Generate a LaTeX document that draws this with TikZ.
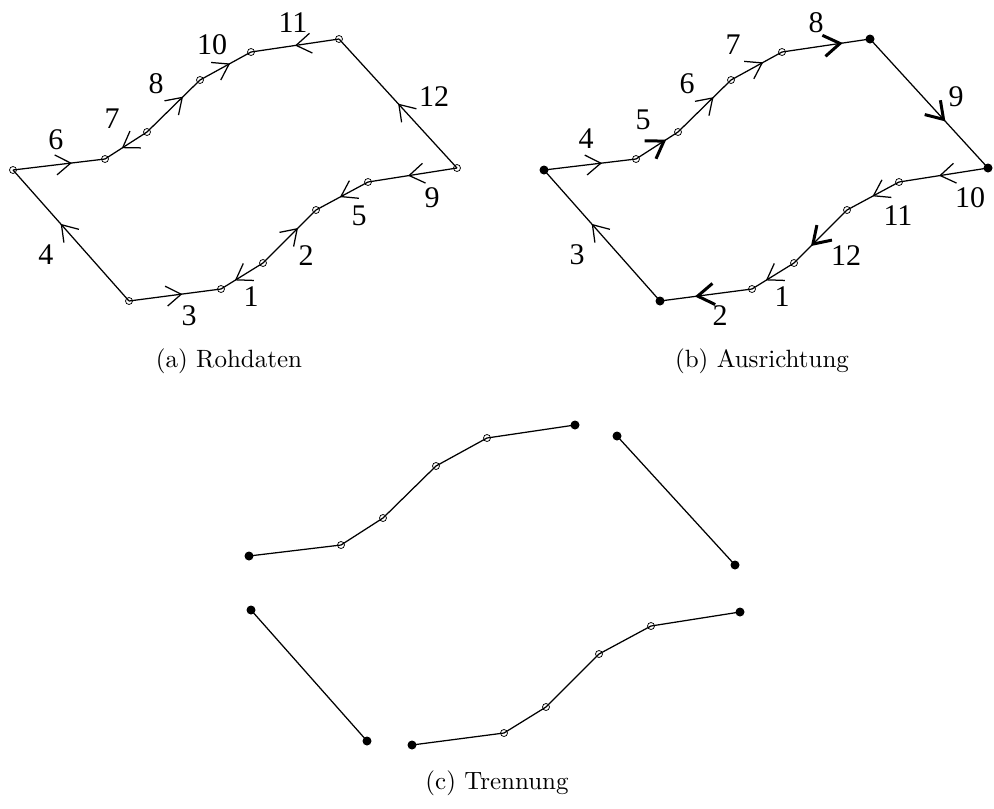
\documentclass[tikz,border=0pt]{standalone}
\usepackage{fontspec}
\newfontfamily\labelfont{Liberation Serif}
\usetikzlibrary{arrows.meta,decorations.markings}

\begin{document}
\begin{tikzpicture}[x=0.4pt,y=-0.4pt,line width=0.5pt,
  knot/.style={circle,draw,line width=0.3pt,inner sep=0pt,minimum size=2.8pt},
  endknot/.style={circle,fill,inner sep=0pt,minimum size=3.6pt},
  seglabel/.style={inner sep=0pt,font=\labelfont\fontsize{12}{12}\selectfont},
  arr/.style={decoration={markings,mark=at position #1 with {\arrow{Straight Barb[length=6pt,width=8pt]}}},postaction={decorate}},
  boldarr/.style={decoration={markings,mark=at position #1 with {\arrow[line width=1.2pt]{Straight Barb[length=6.5pt,width=8.5pt]}}},postaction={decorate}}]
  \useasboundingbox (0,0) rectangle (994,808);

  % (a) raw data
  \foreach \n/\x/\y in {1/13/170,2/105/159,3/147/132,4/200/80,5/251/52,6/339/39,7/457/168,8/368/182,9/316/210,10/263/263,11/221/289,12/129/301}
    \node[knot] (a\n) at (\x,\y) {};
  \foreach \s/\t/\p in {10/11/0.67,10/9/0.66,12/11/0.58,12/1/0.59,8/9/0.54,1/2/0.64,3/2/0.6,3/4/0.68,7/8/0.55,4/5/0.59,6/5/0.5,7/6/0.5}
    \draw[arr=\p] (a\s.center) -- (a\t.center);
  \foreach \t/\x/\y in {1/251/297,2/306/256,3/189/316,4/46/255,5/359/216,6/56/140,7/112/119,8/156/84,9/432/198,10/212/45,11/293/23,12/434/97}
    \node[seglabel] (la\t) at (\x,\y) {\t};
  \node[anchor=base] (capa) at (229,367) {(a) Rohdaten};

  % (b) oriented
  \foreach \n in {2,3,4,5,8,9,10,11}
    \node[knot] (b\n) at ([shift={(531,0)}]a\n) {};
  \foreach \n in {1,6,7,12}
    \node[endknot] (b\n) at ([shift={(531,0)}]a\n) {};
  \foreach \s/\t/\p in {1/2/0.63,3/4/0.67,4/5/0.63,7/8/0.55,8/9/0.51,10/11/0.67,12/1/0.59}
    \draw[arr=\p] (b\s.center) -- (b\t.center);
  \foreach \s/\t/\p in {2/3/0.72,5/6/0.69,6/7/0.64,9/10/0.68,11/12/0.62}
    \draw[boldarr=\p] (b\s.center) -- (b\t.center);
  \foreach \t/\x/\y in {4/586/139,5/643/120,6/687/84,7/733/45,8/816/23,9/956/97,10/970/198,11/898/216,12/846/256,1/782/297,2/720/316,3/577/255}
    \node[seglabel] (lb\t) at (\x,\y) {\t};
  \node[anchor=base] (capb) at (762,367) {(b) Ausrichtung};

  % (c) split
  \foreach \n in {2,...,5}
    \node[knot] (cu\n) at ([shift={(236,386)}]a\n) {};
  \foreach \n in {1,6}
    \node[endknot] (cu\n) at ([shift={(236,386)}]a\n) {};
  \draw (cu1.center) -- (cu2.center) -- (cu3.center) -- (cu4.center) -- (cu5.center) -- (cu6.center);
  \foreach \n in {6,7}
    \node[endknot] (cr\n) at ([shift={(278,397)}]a\n) {};
  \draw (cr6.center) -- (cr7.center);
  \foreach \n in {1,12}
    \node[endknot] (cl\n) at ([shift={(238,440)}]a\n) {};
  \draw (cl1.center) -- (cl12.center);
  \foreach \n in {8,...,11}
    \node[knot] (cd\n) at ([shift={(283,444)}]a\n) {};
  \foreach \n in {7,12}
    \node[endknot] (cd\n) at ([shift={(283,444)}]a\n) {};
  \draw (cd12.center) -- (cd11.center) -- (cd10.center) -- (cd9.center) -- (cd8.center) -- (cd7.center);
  \node[anchor=base] (capc) at (497,789) {(c) Trennung};
\end{tikzpicture}
\end{document}
